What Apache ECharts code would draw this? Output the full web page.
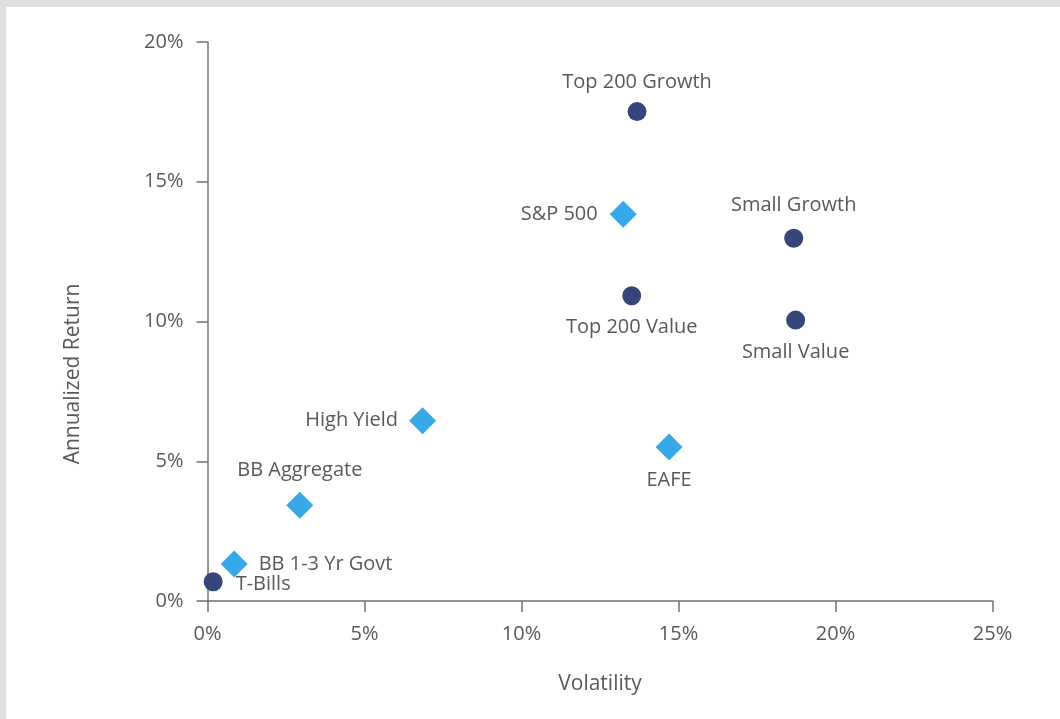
<!DOCTYPE html>
<html>
<head>
<meta charset="utf-8">
<script src="https://cdn.jsdelivr.net/npm/echarts@6/dist/echarts.min.js"></script>
<style>
  html, body { margin: 0; padding: 0; background: #e0e0e0; }
  #chart {
    position: absolute;
    left: 6px;
    top: 7px;
    width: 1054px;
    height: 712px;
    background: #fff;
  }
</style>
</head>
<body>
<div id="chart"></div>
<script>
// asset classes, volatility (%) vs annualized return (%)
var names = ['Top 200 Growth', 'S&P 500', 'Small Growth', 'Top 200 Value', 'Small Value',
  'High Yield', 'EAFE', 'BB Aggregate', 'BB 1-3 Yr Govt', 'T-Bills'];
var volatility = [13.68, 13.24, 18.67, 13.51, 18.73, 6.85, 14.70, 2.94, 0.85, 0.18];
var returns = [17.51, 13.84, 12.98, 10.92, 10.05, 6.45, 5.51, 3.43, 1.32, 0.69];
// 'index' = circle marker, 'diverse' = diamond marker
var kinds = ['index', 'diverse', 'index', 'index', 'index',
  'diverse', 'diverse', 'diverse', 'diverse', 'index'];

var xTicks = [0, 5, 10, 15, 20, 25];
var yTicks = [0, 5, 10, 15, 20];

var labelPlace = {
  'Top 200 Growth': { position: 'top', distance: 10 },
  'S&P 500': { position: 'left', distance: 12 },
  'Small Growth': { position: 'top', distance: 13 },
  'Top 200 Value': { position: 'bottom', distance: 12 },
  'Small Value': { position: 'bottom', distance: 13 },
  'High Yield': { position: 'left', distance: 11 },
  'EAFE': { position: 'bottom', distance: 10 },
  'BB Aggregate': { position: 'top', distance: 11 },
  'BB 1-3 Yr Govt': { position: 'right', distance: 11 },
  'T-Bills': { position: 'right', distance: 13, offset: [0, 3] }
};

var FONT = '"Open Sans", sans-serif';
var TXT = '#595959';
var AXIS = '#707070';

function points(kind) {
  var out = [];
  for (var i = 0; i < names.length; i++) {
    if (kinds[i] !== kind) continue;
    out.push({
      name: names[i],
      value: [volatility[i], returns[i]],
      label: labelPlace[names[i]]
    });
  }
  return out;
}

var chart = echarts.init(document.getElementById('chart'));

var option = {
  animation: false,
  textStyle: { fontFamily: FONT },
  grid: {
    left: 201.5,
    top: 35,
    width: 785,
    height: 559
  },
  xAxis: {
    type: 'value',
    min: xTicks[0],
    max: xTicks[xTicks.length - 1],
    interval: 5,
    name: 'Volatility',
    nameLocation: 'middle',
    nameGap: 73,
    nameTextStyle: { color: TXT, fontSize: 21, fontFamily: FONT },
    axisLine: { lineStyle: { color: AXIS, width: 1.5 } },
    axisTick: { show: true, length: 11, lineStyle: { color: AXIS, width: 1.5 } },
    axisLabel: {
      color: TXT,
      fontSize: 20,
      fontFamily: FONT,
      margin: 23,
      formatter: '{value}%'
    },
    splitLine: { show: false }
  },
  yAxis: {
    type: 'value',
    min: yTicks[0],
    max: yTicks[yTicks.length - 1],
    interval: 5,
    axisLine: { show: true, lineStyle: { color: AXIS, width: 1.5 } },
    axisTick: { show: true, length: 11, lineStyle: { color: AXIS, width: 1.5 } },
    axisLabel: {
      color: TXT,
      fontSize: 20,
      fontFamily: FONT,
      margin: 24,
      padding: [0, 0, 4, 0],
      formatter: '{value}%'
    },
    splitLine: { show: false }
  },
  graphic: [{
    type: 'text',
    x: 67,
    y: 367,
    rotation: Math.PI / 2,
    style: {
      text: 'Annualized Return',
      fill: TXT,
      font: '21px ' + FONT,
      align: 'center',
      verticalAlign: 'middle'
    }
  }],
  series: [
    {
      type: 'scatter',
      symbol: 'circle',
      symbolSize: 19,
      itemStyle: { color: '#36457a', opacity: 1 },
      label: { show: true, color: TXT, fontSize: 20, fontFamily: FONT, formatter: '{b}' },
      data: points('index')
    },
    {
      type: 'scatter',
      symbol: 'diamond',
      symbolSize: 27,
      itemStyle: { color: '#38a9e8', opacity: 1 },
      label: { show: true, color: TXT, fontSize: 20, fontFamily: FONT, formatter: '{b}' },
      data: points('diverse')
    }
  ]
};

chart.setOption(option);
</script>
</body>
</html>
